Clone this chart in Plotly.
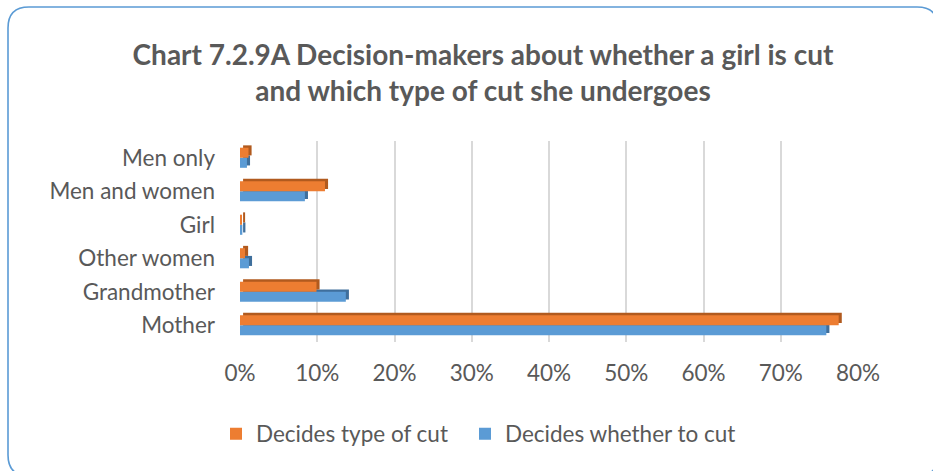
import plotly.graph_objects as go

# Decision-makers, listed bottom to top
categories = ["Mother", "Grandmother", "Other women", "Girl", "Men and women", "Men only"]
type_of_cut = [0.775, 0.099, 0.0065, 0.0026, 0.110, 0.011]
whether_to_cut = [0.759, 0.137, 0.0116, 0.003, 0.084, 0.009]
x_ticks = [0, 0.1, 0.2, 0.3, 0.4, 0.5, 0.6, 0.7, 0.8]

ORANGE, ORANGE_DARK = "#ED7D31", "#B15A1E"
BLUE, BLUE_DARK = "#5B9BD5", "#3F6F9C"
TEXT = "#595959"
FONT = "Lato"
LABEL_SIZE = 22.5

W, H = 933, 471
L, R, T, B = 240, 75, 141, 129
PW, PH = W - L - R, H - T - B

BAR_W = 0.3        # thickness of each front face (category units)
DEPTH_Y = 0.07     # depth of the top face
DEPTH_X = 0.004    # depth of the side face (value units)


def depth_trace(values, color, offset):
    return go.Bar(
        y=categories, x=values, base=DEPTH_X, orientation="h",
        offset=offset + DEPTH_Y, width=BAR_W,
        marker=dict(color=color, line=dict(width=0)),
        showlegend=False, hoverinfo="skip",
    )


def front_trace(values, color, offset, name, legend):
    return go.Bar(
        y=categories, x=values, orientation="h", name=name,
        offset=offset, width=BAR_W, legend=legend,
        marker=dict(color=color, line=dict(width=0)),
    )


fig = go.Figure()
fig.add_trace(depth_trace(whether_to_cut, BLUE_DARK, -BAR_W))
fig.add_trace(front_trace(whether_to_cut, BLUE, -BAR_W, "Decides whether to cut", "legend2"))
fig.add_trace(depth_trace(type_of_cut, ORANGE_DARK, 0))
fig.add_trace(front_trace(type_of_cut, ORANGE, 0, "Decides type of cut", "legend"))


def px_to_paper(px, py):
    return (px - L) / PW, (H - B - py) / PH


# rounded chart border
x0, y0, x1, y1, r = 8, 7, 938, 476, 21
pts = [
    ("M", [(x0 + r, y0)]), ("L", [(x1 - r, y0)]), ("Q", [(x1, y0), (x1, y0 + r)]),
    ("L", [(x1, y1 - r)]), ("Q", [(x1, y1), (x1 - r, y1)]), ("L", [(x0 + r, y1)]),
    ("Q", [(x0, y1), (x0, y1 - r)]), ("L", [(x0, y0 + r)]), ("Q", [(x0, y0), (x0 + r, y0)]),
]
path = ""
for cmd, coords in pts:
    path += cmd + " ".join("%.5f,%.5f" % px_to_paper(px, py) for px, py in coords) + " "
path += "Z"
fig.add_shape(type="path", xref="paper", yref="paper", path=path,
              line=dict(color="#5B9BD5", width=1.6), layer="below")

legend_style = dict(
    orientation="h", xref="container", yref="container",
    y=1 - 434 / H, xanchor="left", yanchor="middle",
    font=dict(size=LABEL_SIZE, color=TEXT), itemwidth=30,
)

fig.update_layout(
    width=W, height=H,
    margin=dict(l=L, r=R, t=T, b=B),
    paper_bgcolor="white", plot_bgcolor="white",
    barmode="overlay",
    font=dict(family=FONT, color=TEXT, size=LABEL_SIZE),
    title=dict(
        text="Chart 7.2.9A Decision-makers about whether a girl is cut<br>and which type of cut she undergoes",
        xref="container", yref="container", x=483 / W, y=1 - 65 / H,
        xanchor="center", yanchor="middle",
        font=dict(family=FONT, size=28, color=TEXT, weight="bold"),
    ),
    xaxis=dict(
        range=[0, 0.8], tickvals=x_ticks, tickformat=".0%",
        showgrid=True, gridcolor="#D9D9D9", gridwidth=2,
        zeroline=False, showline=False, ticks="",
        ticklabelstandoff=15, tickfont=dict(size=LABEL_SIZE, color=TEXT),
    ),
    yaxis=dict(
        categoryorder="array", categoryarray=categories,
        range=[-0.5, 5.5], showgrid=False, zeroline=False, showline=False,
        ticks="", ticklabelstandoff=24, tickfont=dict(size=LABEL_SIZE, color=TEXT),
    ),
    legend=dict(x=216 / W, **legend_style),
    legend2=dict(x=465 / W, **legend_style),
    showlegend=True,
)

fig.write_html("out.html")
